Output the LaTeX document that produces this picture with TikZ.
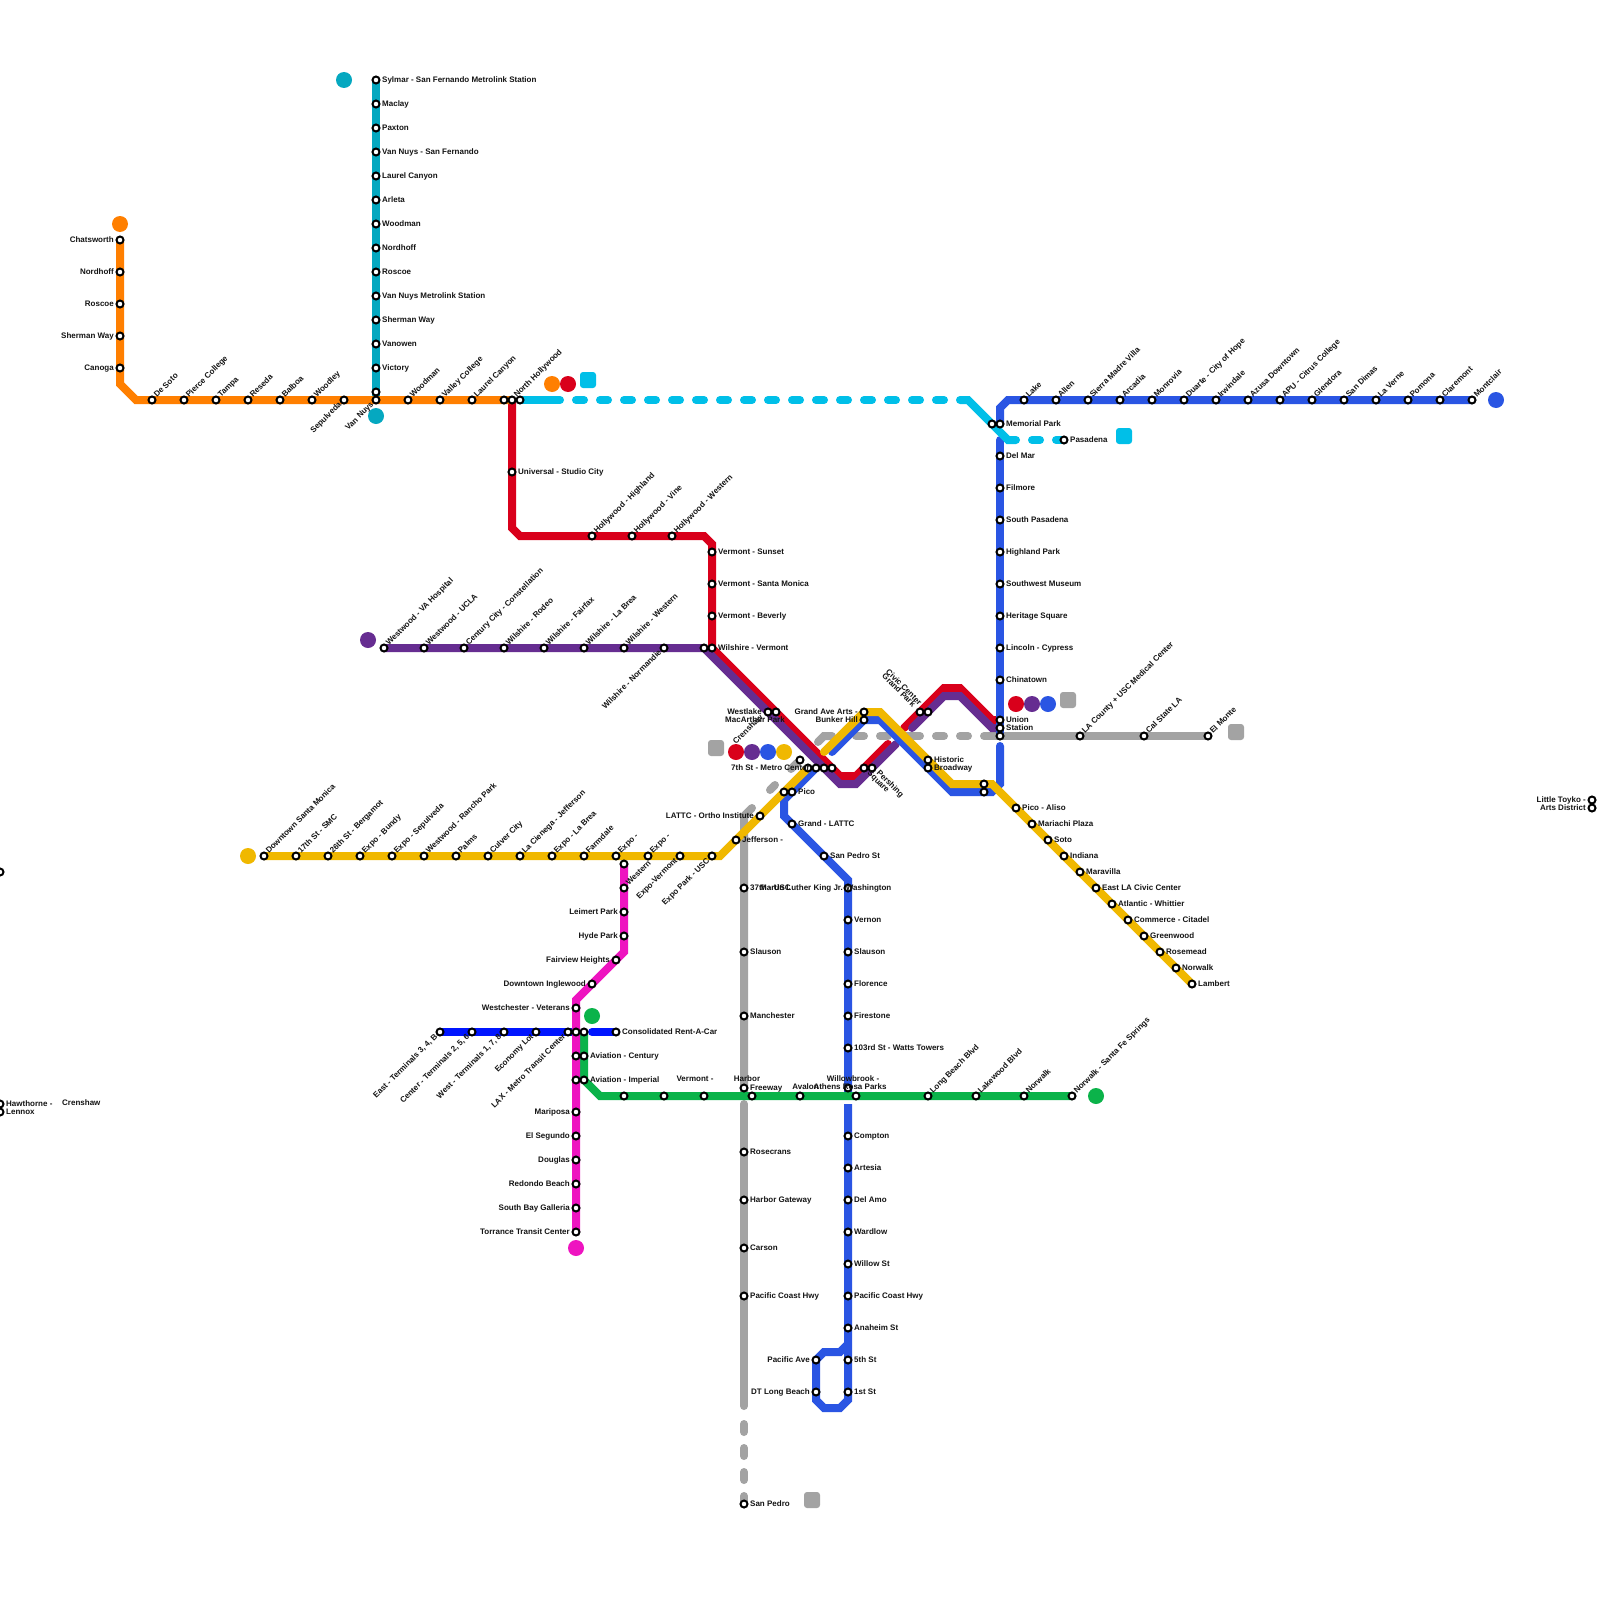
\documentclass[tikz,border=0pt]{standalone}
\usepackage{fontspec}
\setmainfont{Liberation Sans}
\pgfdeclarelayer{lines}
\pgfdeclarelayer{labels}
\pgfsetlayers{lines,main,labels}
\definecolor{cOrange}{HTML}{FF7F00}
\definecolor{cTeal}{HTML}{05A8C0}
\definecolor{cRed}{HTML}{D9001B}
\definecolor{cPurple}{HTML}{662D91}
\definecolor{cBlue}{HTML}{2A55E3}
\definecolor{cYellow}{HTML}{F0B800}
\definecolor{cGrey}{HTML}{A3A3A3}
\definecolor{cMag}{HTML}{EE14C0}
\definecolor{cGreen}{HTML}{0BB34A}
\definecolor{cCyan}{HTML}{00BFE8}
\definecolor{cLax}{HTML}{0015FF}
\tikzset{
  stn/.style={circle,draw=black,fill=white,line width=2pt,minimum size=7pt,inner sep=0pt},
  txt/.style={font=\fontsize{8}{9}\selectfont\bfseries,inner sep=0pt,text=black!92},
  route/.style={line width=8pt,line cap=round,line join=miter,miter limit=10},
  rdash/.style={route,dash pattern=on 8pt off 16pt},
  dot/.style={circle,minimum size=16pt,inner sep=0pt},
  sqr/.style={rectangle,rounded corners=3pt,minimum size=16pt,inner sep=0pt}
}
\newcommand\sN[3]{\node[stn] (#1) at (#2,#3) {};}
\newcommand\tx[5]{\begin{pgfonlayer}{labels}\node[txt,#5] (#1) at (#2,#3) {#4};\end{pgfonlayer}}
\newcommand\sR[4]{\sN{#1}{#2}{#3}\tx{#1t}{#2+6}{#3+2.3}{#4}{anchor=base west}}
\newcommand\sL[4]{\sN{#1}{#2}{#3}\tx{#1t}{#2-6}{#3+2.3}{#4}{anchor=base east}}
\newcommand\sU[4]{\sN{#1}{#2}{#3}\tx{#1t}{#2+5}{#3-2}{#4}{anchor=base west,rotate=45}}
\newcommand\sD[4]{\sN{#1}{#2}{#3}\tx{#1t}{#2-2}{#3+5}{#4}{anchor=base east,rotate=45}}
\begin{document}
\begin{tikzpicture}[x=1pt,y=-1pt]
\useasboundingbox (0,0) rectangle (1600,1600);
\begin{pgfonlayer}{lines}\fill[white] (0,0) rectangle (1600,1600);\end{pgfonlayer}
% markers
\node[dot,fill=cOrange] (mO1) at (120,224) {};
\node[dot,fill=cTeal] (mT1) at (344,80) {};
\node[dot,fill=cTeal] (mT2) at (376,416) {};
\node[dot,fill=cOrange] (mC1) at (552,384) {};
\node[dot,fill=cRed] (mC2) at (568,384) {};
\node[sqr,fill=cCyan] (mC3) at (588,380) {};
\node[sqr,fill=cCyan] (mC4) at (1124,436) {};
\node[dot,fill=cBlue] (mB1) at (1496,400) {};
\node[dot,fill=cPurple] (mP1) at (368,640) {};
\node[dot,fill=cRed] (mU1) at (1016,704) {};
\node[dot,fill=cPurple] (mU2) at (1032,704) {};
\node[dot,fill=cBlue] (mU3) at (1048,704) {};
\node[sqr,fill=cGrey] (mU4) at (1068,700) {};
\node[sqr,fill=cGrey] (mG1) at (1236,732) {};
\node[sqr,fill=cGrey] (mM0) at (716,748) {};
\node[dot,fill=cRed] (mM1) at (736,752) {};
\node[dot,fill=cPurple] (mM2) at (752,752) {};
\node[dot,fill=cBlue] (mM3) at (768,752) {};
\node[dot,fill=cYellow] (mM4) at (784,752) {};
\node[dot,fill=cYellow] (mY1) at (248,856) {};
\node[dot,fill=cGreen] (mE1) at (592,1016) {};
\node[dot,fill=cGreen] (mE2) at (1096,1096) {};
\node[dot,fill=cMag] (mK1) at (576,1248) {};
\node[sqr,fill=cGrey] (mG2) at (812,1500) {};
% orange
\sL{oa}{120}{240}{Chatsworth}\sL{ob}{120}{272}{Nordhoff}\sL{oc}{120}{304}{Roscoe}\sL{od}{120}{336}{Sherman Way}\sL{oe}{120}{368}{Canoga}
\sU{of}{152}{400}{De Soto}\sU{og}{184}{400}{Pierce College}\sU{oh}{216}{400}{Tampa}\sU{oi}{248}{400}{Reseda}\sU{oj}{280}{400}{Balboa}\sU{ok}{312}{400}{Woodley}
\sD{ol}{344}{400}{Sepulveda}\sD{om}{376}{400}{Van Nuys}\sU{on}{408}{400}{Woodman}\sU{oo}{440}{400}{Valley College}\sU{op}{472}{400}{Laurel Canyon}
\sN{oq}{504}{400}\sU{or}{512}{400}{North Hollywood}\sN{os}{520}{400}
% teal
\sR{ta}{376}{80}{Sylmar - San Fernando Metrolink Station}\sR{tb}{376}{104}{Maclay}\sR{tc}{376}{128}{Paxton}\sR{td}{376}{152}{Van Nuys - San Fernando}\sR{te}{376}{176}{Laurel Canyon}\sR{tf}{376}{200}{Arleta}\sR{tg}{376}{224}{Woodman}\sR{th}{376}{248}{Nordhoff}\sR{ti}{376}{272}{Roscoe}\sR{tj}{376}{296}{Van Nuys Metrolink Station}\sR{tk}{376}{320}{Sherman Way}\sR{tl}{376}{344}{Vanowen}\sR{tm}{376}{368}{Victory}\sN{tn}{376}{392}
% red
\sR{ra}{512}{472}{Universal - Studio City}
\sU{rb}{592}{536}{Hollywood - Highland}\sU{rc}{632}{536}{Hollywood - Vine}\sU{rd}{672}{536}{Hollywood - Western}
\sR{re}{712}{552}{Vermont - Sunset}\sR{rf}{712}{584}{Vermont - Santa Monica}\sR{rg}{712}{616}{Vermont - Beverly}\sR{rh}{712}{648}{Wilshire - Vermont}
% purple
\sU{pa}{384}{648}{Westwood - VA Hospital}\sU{pb}{424}{648}{Westwood - UCLA}\sU{pc}{464}{648}{Century City - Constellation}\sU{pd}{504}{648}{Wilshire - Rodeo}\sU{pe}{544}{648}{Wilshire - Fairfax}\sU{pf}{584}{648}{Wilshire - La Brea}\sU{pg}{624}{648}{Wilshire - Western}\sD{ph}{664}{648}{Wilshire - Normandie}\sN{pi}{704}{648}
% downtown
\sL{da}{768}{712}{Westlake}\sN{db}{776}{712}\tx{dbt}{785}{722}{MacArthur Park}{anchor=base east}
\sN{dc}{800}{760}\tx{dct}{736}{745}{Crenshaw}{anchor=base west,rotate=45}
\sN{dd}{808}{768}\sL{de}{816}{768}{7th St - Metro Center}\sN{df}{824}{768}\sN{dg}{832}{768}
\sN{dh}{864}{768}\sN{di}{872}{768}
\tx{dit}{890}{784}{Pershing}{rotate=-45}\tx{dju}{878}{782}{Square}{rotate=-45}
\sL{dk}{864}{712}{Grand Ave Arts -}\sL{dl}{864}{720}{Bunker Hill}
\sN{dm}{920}{712}\sN{dn}{928}{712}
\tx{dnt}{904}{687}{Civic Center}{rotate=-45}\tx{dnu}{899}{690}{Grand Park}{rotate=-45}
\sR{dp}{928}{760}{Historic}\sR{dq}{928}{768}{Broadway}
\sN{dr}{984}{784}\sN{ds}{984}{792}
\sN{dt}{784}{792}\sR{du}{792}{792}{Pico}
\sR{dv}{792}{824}{Grand - LATTC}\sR{dw}{824}{856}{San Pedro St}
% blue north
\sR{bz}{1000}{424}{Memorial Park}\sN{by}{992}{424}
\sR{ba}{1000}{456}{Del Mar}\sR{bb}{1000}{488}{Filmore}\sR{bc}{1000}{520}{South Pasadena}\sR{bd}{1000}{552}{Highland Park}\sR{be}{1000}{584}{Southwest Museum}\sR{bf}{1000}{616}{Heritage Square}\sR{bg}{1000}{648}{Lincoln - Cypress}\sR{bh}{1000}{680}{Chinatown}
\sR{bi}{1000}{720}{Union}\sR{bj}{1000}{728}{Station}\sN{bk}{1000}{736}
\sU{ua}{1024}{400}{Lake}\sU{ub}{1056}{400}{Allen}\sU{uc}{1088}{400}{Sierra Madre Villa}\sU{ud}{1120}{400}{Arcadia}\sU{ue}{1152}{400}{Monrovia}\sU{uf}{1184}{400}{Duarte - City of Hope}\sU{ug}{1216}{400}{Irwindale}\sU{uh}{1248}{400}{Azusa Downtown}\sU{ui}{1280}{400}{APU - Citrus College}\sU{uj}{1312}{400}{Glendora}\sU{uk}{1344}{400}{San Dimas}\sU{ul}{1376}{400}{La Verne}\sU{um}{1408}{400}{Pomona}\sU{un}{1440}{400}{Claremont}\sU{uo}{1472}{400}{Montclair}
\sR{cp}{1064}{440}{Pasadena}
% blue south
\sN{va}{848}{888}\tx{vat}{760}{890.3}{Martin Luther King Jr. Washington}{anchor=base west}
\sR{vb}{848}{920}{Vernon}\sR{vc}{848}{952}{Slauson}\sR{vd}{848}{984}{Florence}\sR{ve}{848}{1016}{Firestone}\sR{vf}{848}{1048}{103rd St - Watts Towers}\sN{vg}{848}{1088}
\sR{vh}{848}{1136}{Compton}\sR{vi}{848}{1168}{Artesia}\sR{vj}{848}{1200}{Del Amo}\sR{vk}{848}{1232}{Wardlow}\sR{vl}{848}{1264}{Willow St}\sR{vm}{848}{1296}{Pacific Coast Hwy}\sR{vn}{848}{1328}{Anaheim St}\sR{vo}{848}{1360}{5th St}\sR{vp}{848}{1392}{1st St}
\sL{vq}{816}{1360}{Pacific Ave}\sL{vr}{816}{1392}{DT Long Beach}
% yellow
\sU{ya}{264}{856}{Downtown Santa Monica}\sU{yb}{296}{856}{17th St - SMC}\sU{yc}{328}{856}{26th St - Bergamot}\sU{yd}{360}{856}{Expo - Bundy}\sU{ye}{392}{856}{Expo - Sepulveda}\sU{yf}{424}{856}{Westwood - Rancho Park}\sU{yg}{456}{856}{Palms}\sU{yh}{488}{856}{Culver City}\sU{yi}{520}{856}{La Cienega - Jefferson}\sU{yj}{552}{856}{Expo - La Brea}\sU{yk}{584}{856}{Farmdale}\sU{yl}{616}{856}{Expo -}\sU{ym}{648}{856}{Expo -}\sD{yn}{680}{856}{Expo-Vermont}\sD{yo}{712}{856}{Expo Park - USC}
\sR{yp}{736}{840}{Jefferson -}\sL{yq}{760}{816}{LATTC - Ortho Institute}
\sR{za}{1016}{808}{Pico - Aliso}\sR{zb}{1032}{824}{Mariachi Plaza}\sR{zc}{1048}{840}{Soto}\sR{zd}{1064}{856}{Indiana}\sR{ze}{1080}{872}{Maravilla}\sR{zf}{1096}{888}{East LA Civic Center}\sR{zg}{1112}{904}{Atlantic - Whittier}\sR{zh}{1128}{920}{Commerce - Citadel}\sR{zi}{1144}{936}{Greenwood}\sR{zj}{1160}{952}{Rosemead}\sR{zk}{1176}{968}{Norwalk}\sR{zl}{1192}{984}{Lambert}
% grey
\sU{ga}{1080}{736}{LA County + USC Medical Center}\sU{gb}{1144}{736}{Cal State LA}\sU{gc}{1208}{736}{El Monte}
\sR{gd}{744}{888}{37th - USC}\sR{ge}{744}{952}{Slauson}\sR{gf}{744}{1016}{Manchester}\sR{gg}{744}{1088}{Freeway}\tx{ggt}{747}{1081}{Harbor}{anchor=base}
\sR{gh}{744}{1152}{Rosecrans}\sR{gi}{744}{1200}{Harbor Gateway}\sR{gj}{744}{1248}{Carson}\sR{gk}{744}{1296}{Pacific Coast Hwy}\sR{gl}{744}{1504}{San Pedro}
% magenta
\sN{ka}{624}{864}\sU{kb}{624}{888}{Western}\sL{kc}{624}{912}{Leimert Park}\sL{kd}{624}{936}{Hyde Park}\sL{ke}{616}{960}{Fairview Heights}\sL{kf}{592}{984}{Downtown Inglewood}\sL{kg}{576}{1008}{Westchester - Veterans}
\sN{kh}{576}{1032}\sN{ki}{576}{1056}\sN{kj}{576}{1080}
\sL{kk}{576}{1112}{Mariposa}\sL{kl}{576}{1136}{El Segundo}\sL{km}{576}{1160}{Douglas}\sL{kn}{576}{1184}{Redondo Beach}\sL{ko}{576}{1208}{South Bay Galleria}\sL{kp}{576}{1232}{Torrance Transit Center}
% lax
\sD{la}{440}{1032}{East - Terminals 3, 4, B}\sD{lb}{472}{1032}{Center - Terminals 2, 5, 6}\sD{lc}{504}{1032}{West - Terminals 1, 7, 8}\sD{ld}{536}{1032}{Economy Lot}\sD{le}{568}{1032}{LAX - Metro Transit Center}
\sR{lf}{616}{1032}{Consolidated Rent-A-Car}
% green
\sN{ea}{584}{1032}\sR{eb}{584}{1056}{Aviation - Century}\sR{ec}{584}{1080}{Aviation - Imperial}
\sN{ed}{624}{1096}\sN{ee}{664}{1096}\sN{ef}{704}{1096}\tx{eft}{695}{1081}{Vermont -}{anchor=base}
\sN{eg}{752}{1096}\sN{eh}{800}{1096}\tx{eht}{805.5}{1089}{Avalon}{anchor=base}
\sN{ei}{856}{1096}\tx{eit}{853}{1081}{Willowbrook -}{anchor=base}\tx{eiu}{850}{1089}{Athens Rosa Parks}{anchor=base}
\sU{ej}{928}{1096}{Long Beach Blvd}\sU{ek}{976}{1096}{Lakewood Blvd}\sU{el}{1024}{1096}{Norwalk}\sU{em}{1072}{1096}{Norwalk - Santa Fe Springs}
% edge stations
\sN{xa}{0}{872}
\sR{xb}{0}{1104}{Hawthorne -}\sR{xc}{0}{1112}{Lennox}\tx{xct}{62}{1105}{Crenshaw}{anchor=base west}
\sL{xd}{1592}{800}{Little Toyko -}\sL{xe}{1592}{808}{Arts District}
% bends
\coordinate (o1) at (120,384);\coordinate (o2) at (136,400);
\coordinate (r1) at (512,528);\coordinate (r2) at (520,536);\coordinate (r3) at (704,536);\coordinate (r4) at (712,544);
\coordinate (r5) at (840,776);\coordinate (r6) at (856,776);\coordinate (r7) at (888,744);\coordinate (r8) at (904,728);\coordinate (r9) at (944,688);\coordinate (r10) at (960,688);\coordinate (r11) at (992,720);
\coordinate (p1) at (840,784);\coordinate (p2) at (856,784);\coordinate (p3) at (896,744);\coordinate (p4) at (912,728);\coordinate (p5) at (944,696);\coordinate (p6) at (960,696);\coordinate (p7) at (992,728);
\coordinate (b1) at (1008,400);\coordinate (b2) at (1000,408);\coordinate (b3) at (1000,440);\coordinate (b4) at (1000,746);\coordinate (b5) at (1000,784);\coordinate (b6) at (992,792);\coordinate (b7) at (952,792);\coordinate (b8) at (880,720);\coordinate (b9) at (832,752);\coordinate (b10) at (784,800);\coordinate (b11) at (784,816);\coordinate (b12) at (848,880);\coordinate (b13) at (848,1092);\coordinate (b14) at (848,1104);\coordinate (b15) at (848,1400);\coordinate (b16) at (840,1408);\coordinate (b17) at (824,1408);\coordinate (b18) at (816,1400);\coordinate (b19) at (816,1360);\coordinate (b20) at (824,1352);\coordinate (b21) at (840,1352);\coordinate (b22) at (848,1344);
\coordinate (y1) at (720,856);\coordinate (y2) at (824,752);\coordinate (y3) at (880,712);\coordinate (y4) at (952,784);\coordinate (y5) at (992,784);
\coordinate (c1) at (560,400);\coordinate (c2) at (576,400);\coordinate (c3) at (944,400);\coordinate (c4) at (960,400);\coordinate (c5) at (968,400);\coordinate (c6) at (1008,440);\coordinate (c7) at (1016,440);\coordinate (c8) at (1032,440);
\coordinate (g1) at (984,736);\coordinate (g2) at (968,736);\coordinate (g3) at (912,736);\coordinate (g4) at (856,736);\coordinate (g5) at (832,736);\coordinate (g6) at (824,736);\coordinate (g7) at (818,742);\coordinate (g8) at (797,763);\coordinate (g9) at (791,769);\coordinate (g10) at (775,785);\coordinate (g11) at (770,790);\coordinate (g12) at (752,808);\coordinate (g13) at (744,816);\coordinate (g14) at (744,1092);\coordinate (g15) at (744,1104);\coordinate (g16) at (744,1406);\coordinate (g17) at (744,1424);
\coordinate (k1) at (624,952);\coordinate (k2) at (576,1000);
\coordinate (l1) at (592,1032);
\coordinate (e1) at (584,1080);\coordinate (e2) at (600,1096);
\begin{pgfonlayer}{lines}
% grey
\draw[route,cGrey] (bk.center) -- (gc.center);
\draw[route,cGrey] (g1) -- (bk.center);
\draw[rdash,cGrey] (g3) -- (g2);
\draw[rdash,cGrey] (g4) -- (g3);
\draw[route,cGrey] (g7) -- (g6) -- (g5);
\draw[route,cGrey] (g8) -- (g9);
\draw[route,cGrey] (g10) -- (g11);
\draw[route,cGrey] (g12) -- (g13) -- (g14);
\draw[route,cGrey] (g15) -- (g16);
\draw[rdash,cGrey] (g17) -- (gl.center);
% teal
\draw[route,cTeal] (ta.center) -- (om.center);
% red
\draw[route,cRed] (or.center) -- (r1) -- (r2) -- (r3) -- (r4) -- (rh.center) -- (r5) -- (r6) -- (r7);
\draw[route,cRed] (r8) -- (r9) -- (r10) -- (r11) -- (bi.center);
% orange
\draw[route,cOrange] (oa.center) -- (o1) -- (o2) -- (or.center);
% purple
\draw[route,cPurple] (pa.center) -- (pi.center) -- (p1) -- (p2) -- (p3);
\draw[route,cPurple] (p4) -- (p5) -- (p6) -- (p7) -- (bj.center);
% blue
\draw[route,cBlue] (uo.center) -- (b1) -- (b2) -- (bz.center);
\draw[route,cBlue] (b3) -- (bk.center);
\draw[route,cBlue] (b4) -- (b5) -- (b6) -- (b7) -- (b8) -- (dl.center) -- (b9);
\draw[route,cBlue] (de.center) -- (du.center) -- (b10) -- (b11) -- (b12) -- (b13);
\draw[route,cBlue] (b14) -- (b15) -- (b16) -- (b17) -- (b18) -- (b19) -- (b20) -- (b21) -- (b22) -- cycle;
% yellow
\draw[route,cYellow] (ya.center) -- (y1) -- (dd.center);
\draw[route,cYellow] (y2) -- (dk.center) -- (y3) -- (y4) -- (y5) -- (zl.center);
% cyan
\draw[route,cCyan] (os.center) -- (c1);
\draw[rdash,cCyan] (c2) -- (c3);
\draw[route,cCyan] (c4) -- (c5) -- (c6) -- (c7);
\draw[rdash,cCyan] (c8) -- (cp.center);
% lax
\draw[route,cLax] (la.center) -- (kh.center);
\draw[route,cLax] (l1) -- (lf.center);
% green
\draw[route,cGreen] (ea.center) -- (e1) -- (e2) -- (em.center);
% magenta
\draw[route,cMag] (ka.center) -- (k1) -- (k2) -- (kp.center);
\end{pgfonlayer}
\end{tikzpicture}
\end{document}
